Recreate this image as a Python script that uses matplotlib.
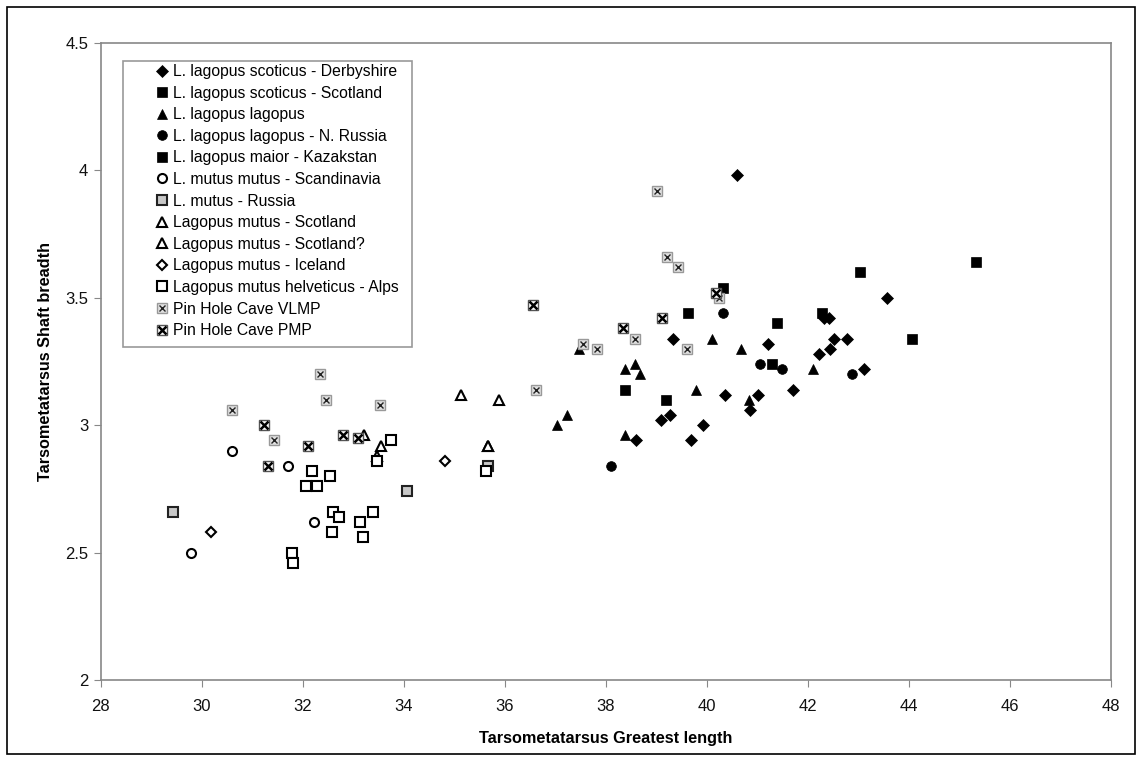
import matplotlib
matplotlib.use("Agg")
import matplotlib.pyplot as plt
from matplotlib.patches import Rectangle
from matplotlib.lines import Line2D

plt.rcParams['font.family'] = ['Liberation Sans', 'DejaVu Sans']

# ---- data ----
derby_x = [40.61, 39.34, 40.36, 41.22, 41.02, 41.72, 40.86, 39.10, 39.28, 39.92, 39.70, 38.60,
           43.58, 42.33, 42.43, 42.53, 42.78, 42.44, 42.23, 43.12]
derby_y = [3.98, 3.34, 3.12, 3.32, 3.12, 3.14, 3.06, 3.02, 3.04, 3.00, 2.94, 2.94,
           3.50, 3.42, 3.42, 3.34, 3.34, 3.30, 3.28, 3.22]
scot_x = [38.38, 39.19, 39.64, 40.32, 41.29]
scot_y = [3.14, 3.10, 3.44, 3.54, 3.24]
lag_x = [37.04, 37.24, 37.48, 38.38, 38.58, 38.68, 38.38, 39.80, 40.10, 40.68, 40.84, 42.10]
lag_y = [3.00, 3.04, 3.30, 3.22, 3.24, 3.20, 2.96, 3.14, 3.34, 3.30, 3.10, 3.22]
nrus_x = [38.10, 40.32, 41.06, 41.50, 42.88]
nrus_y = [2.84, 3.44, 3.24, 3.22, 3.20]
kaz_x = [41.40, 42.28, 43.04, 44.06, 45.33]
kaz_y = [3.40, 3.44, 3.60, 3.34, 3.64]
scand_x = [30.61, 31.70, 32.23, 29.79]
scand_y = [2.90, 2.84, 2.62, 2.50]
mrus_x = [29.44, 34.07, 35.68]
mrus_y = [2.66, 2.74, 2.84]
mscot_x = [33.22, 33.56, 35.13, 35.89, 35.68]
mscot_y = [2.96, 2.92, 3.12, 3.10, 2.92]
mscotq_x = [33.47, 35.68]
mscotq_y = [2.88, 2.92]
ice_x = [30.18, 34.82]
ice_y = [2.58, 2.86]
alps_x = [33.75, 33.47, 32.19, 32.55, 32.07, 32.28, 32.61, 32.71, 33.40, 33.13, 32.59, 33.20,
          31.79, 31.81, 35.63]
alps_y = [2.94, 2.86, 2.82, 2.80, 2.76, 2.76, 2.66, 2.64, 2.66, 2.62, 2.58, 2.56,
          2.50, 2.46, 2.82]
vlmp_x = [32.34, 32.46, 33.54, 30.61, 31.44, 36.63, 39.01, 39.22, 39.43, 40.24, 38.58, 37.56,
          37.82, 39.62]
vlmp_y = [3.20, 3.10, 3.08, 3.06, 2.94, 3.14, 3.92, 3.66, 3.62, 3.50, 3.34, 3.32,
          3.30, 3.30]
pmp_x = [31.24, 32.10, 32.80, 33.09, 31.32, 40.18, 36.57, 39.11, 38.35]
pmp_y = [3.00, 2.92, 2.96, 2.95, 2.84, 3.52, 3.47, 3.42, 3.38]

labels = ["L. lagopus scoticus - Derbyshire", "L. lagopus scoticus - Scotland",
          "L. lagopus lagopus", "L. lagopus lagopus - N. Russia",
          "L. lagopus maior - Kazakstan", "L. mutus mutus - Scandinavia",
          "L. mutus - Russia", "Lagopus mutus - Scotland", "Lagopus mutus - Scotland?",
          "Lagopus mutus - Iceland", "Lagopus mutus helveticus - Alps",
          "Pin Hole Cave VLMP", "Pin Hole Cave PMP"]
xticks = [28, 30, 32, 34, 36, 38, 40, 42, 44, 46, 48]
yticks = [2, 2.5, 3, 3.5, 4, 4.5]
ytick_labels = ['2', '2.5', '3', '3.5', '4', '4.5']

W, H = 1142, 761
fig = plt.figure(figsize=(W / 100, H / 100), dpi=100)
ax = fig.add_axes([100.7 / W, 1 - 680 / H, (1110.5 - 100.7) / W, (680 - 43) / H])

series = [
    (derby_x, derby_y, dict(marker='D', ms=6, mfc='black', mec='black', mew=0.5)),
    (scot_x, scot_y, dict(marker='s', ms=6.5, mfc='black', mec='black', mew=0.5)),
    (lag_x, lag_y, dict(marker='^', ms=7.5, mfc='black', mec='black', mew=0.5)),
    (nrus_x, nrus_y, dict(marker='o', ms=7, mfc='black', mec='black', mew=0.5)),
    (kaz_x, kaz_y, dict(marker='s', ms=6.5, mfc='black', mec='black', mew=0.5)),
    (scand_x, scand_y, dict(marker='o', ms=6.5, mfc='white', mec='black', mew=1.5)),
    (mrus_x, mrus_y, dict(marker='s', ms=6.5, mfc='#c8c8c8', mec='#222222', mew=1.5)),
    (mscot_x, mscot_y, dict(marker='^', ms=7, mfc='white', mec='black', mew=1.5)),
    (mscotq_x, mscotq_y, dict(marker='^', ms=7, mfc='white', mec='black', mew=1.5)),
    (ice_x, ice_y, dict(marker='D', ms=5, mfc='white', mec='black', mew=1.5)),
    (alps_x, alps_y, dict(marker='s', ms=6.5, mfc='white', mec='black', mew=1.5)),
]

handles = []
for xs, ys, st in series:
    ax.plot(xs, ys, ls='none', **st)
    handles.append(Line2D([], [], ls='none', **st))

# Pin Hole Cave markers: square with X pattern
vl_sq = dict(marker='s', ms=7, mfc='#e0e0e0', mec='#999999', mew=1.0)
vl_x = dict(marker='x', ms=5, mec='#222222', mew=1.0)
pm_sq = dict(marker='s', ms=7, mfc='white', mec='#555555', mew=1.0)
pm_x = dict(marker='x', ms=6, mec='black', mew=1.8)
ax.plot(vlmp_x, vlmp_y, ls='none', **vl_sq)
ax.plot(vlmp_x, vlmp_y, ls='none', **vl_x)
ax.plot(pmp_x, pmp_y, ls='none', **pm_sq)
ax.plot(pmp_x, pmp_y, ls='none', **pm_x)
handles.append((Line2D([], [], ls='none', **vl_sq), Line2D([], [], ls='none', **vl_x)))
handles.append((Line2D([], [], ls='none', **pm_sq), Line2D([], [], ls='none', **pm_x)))

ax.set_xlim(28, 48)
ax.set_ylim(2, 4.5)
ax.set_xticks(xticks)
ax.set_yticks(yticks)
ax.set_yticklabels(ytick_labels)
for s in ax.spines.values():
    s.set_color('#888888')
    s.set_linewidth(1.2)
ax.tick_params(direction='out', length=5, color='#888888', labelsize=12, labelcolor='#111111')
ax.tick_params(axis='x', pad=9)
ax.tick_params(axis='y', pad=4)

ax.set_xlabel("Tarsometatarsus Greatest length", fontsize=11.7, fontweight='bold')
ax.set_ylabel("Tarsometatarsus Shaft breadth", fontsize=11.7, fontweight='bold')
ax.xaxis.set_label_coords(0.5, -(738 - 680) / 637, transform=ax.transAxes)
ax.xaxis.label.set_va('center')
ax.yaxis.set_label_coords(-(100.7 - 46) / 1009.8, 0.5, transform=ax.transAxes)
ax.yaxis.label.set_va('center')

# legend frame
fig.patches.append(Rectangle((122.7 / W, 1 - 347 / H), (412 - 122.7) / W, (347 - 60.7) / H,
                             transform=fig.transFigure, fill=True, facecolor='white',
                             edgecolor='#999999', linewidth=1.2, zorder=5))
leg = fig.legend(handles, labels, loc='upper left',
                 bbox_to_anchor=(154 / W, 1 - 64 / H), frameon=False, fontsize=11.3,
                 handlelength=1.0, handletextpad=0.2, labelspacing=0.42, borderpad=0,
                 borderaxespad=0, numpoints=1)
leg.set_zorder(6)

# outer border
fig.patches.append(Rectangle((7 / W, 7 / H), (1135 - 7) / W, (754 - 7) / H,
                             transform=fig.transFigure, fill=False, edgecolor='black',
                             linewidth=1.2))

fig.savefig("out.png", dpi=100)
